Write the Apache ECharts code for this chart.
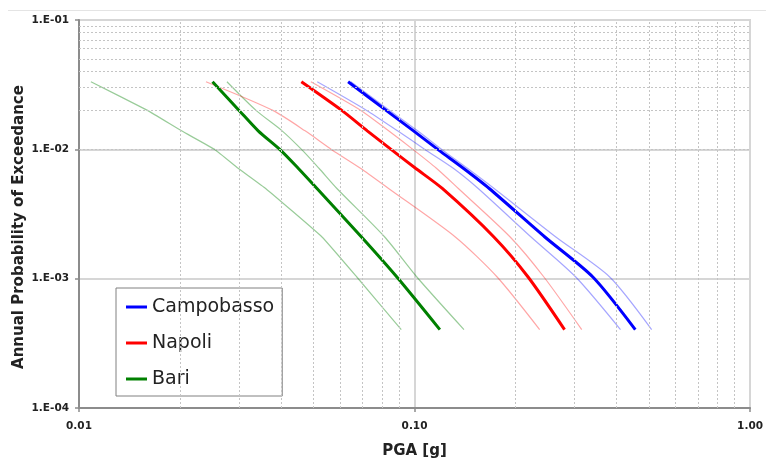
<!DOCTYPE html>
<html>
<head>
<meta charset="utf-8">
<script src="https://cdn.jsdelivr.net/npm/echarts@6/dist/echarts.min.js"></script>
<style>
  html, body { margin: 0; padding: 0; background: #fff; }
  #chart { width: 766px; height: 464px; }
</style>
</head>
<body>
<div id="chart"></div>
<script>
// Annual probability of exceedance for the nine reference return periods
// (30, 50, 72, 101, 140, 201, 475, 975, 2475 years)
const probExceed = [0.0333, 0.02, 0.0139, 0.0099, 0.00714, 0.00498, 0.0021, 0.00103, 0.000404];

// PGA [g] at each probability: lower fractile, median, upper fractile
const campobassoLow  = [0.0513, 0.0720, 0.0890, 0.1079, 0.1305, 0.1548, 0.2225, 0.3024, 0.411];
const campobassoMid  = [0.0634, 0.0823, 0.0993, 0.1178, 0.1398, 0.1670, 0.2446, 0.3400, 0.455];
const campobassoHigh = [0.0646, 0.0843, 0.1021, 0.1210, 0.1437, 0.1727, 0.2638, 0.3817, 0.509];

const napoliLow  = [0.0239, 0.0378, 0.0472, 0.0568, 0.0690, 0.0837, 0.1323, 0.1763, 0.236];
const napoliMid  = [0.0460, 0.0607, 0.0723, 0.0855, 0.1007, 0.1210, 0.1724, 0.2180, 0.280];
const napoliHigh = [0.0491, 0.0692, 0.0837, 0.0993, 0.1162, 0.1351, 0.1928, 0.2430, 0.315];

const bariLow  = [0.01085, 0.0160, 0.0202, 0.0255, 0.0298, 0.0360, 0.0530, 0.0673, 0.0913];
const bariMid  = [0.0250, 0.0300, 0.0342, 0.0398, 0.0450, 0.0512, 0.0695, 0.0886, 0.119];
const bariHigh = [0.0276, 0.0337, 0.0403, 0.0462, 0.0519, 0.0587, 0.0815, 0.1016, 0.1404];

// Axis tick labels, one per decade
const xTickLabels = ['0.01', '0.10', '1.00'];
const yTickLabels = ['1.E-04', '1.E-03', '1.E-02', '1.E-01'];

// Intermediate (2..9) gridline positions inside each decade
const xMinorGrid = [0.02, 0.03, 0.04, 0.05, 0.06, 0.07, 0.08, 0.09, 0.2, 0.3, 0.4, 0.5, 0.6, 0.7, 0.8, 0.9];
const yMinorGrid = [0.0002, 0.0003, 0.0004, 0.0005, 0.0006, 0.0007, 0.0008, 0.0009,
                    0.002, 0.003, 0.004, 0.005, 0.006, 0.007, 0.008, 0.009,
                    0.02, 0.03, 0.04, 0.05, 0.06, 0.07, 0.08, 0.09];

const FONT = '"DejaVu Sans", Verdana, sans-serif';

function curve(name, pga, color, width, opacity, z, smooth) {
  return {
    name: name,
    type: 'line',
    data: pga.map((x, i) => [x, probExceed[i]]),
    color: color,
    showSymbol: false,
    symbol: 'none',
    smooth: smooth,
    z: z,
    lineStyle: { color: color, width: width, opacity: opacity },
    emphasis: { disabled: true }
  };
}

const chart = echarts.init(document.getElementById('chart'), null, { renderer: 'canvas' });

const option = {
  animation: false,
  backgroundColor: '#ffffff',
  grid: {
    left: 79, right: 12, top: 20, bottom: 52,
    show: true,
    borderColor: '#b8b8b8',
    borderWidth: 1.5,
    backgroundColor: 'transparent'
  },
  xAxis: {
    type: 'log',
    logBase: 10,
    min: 0.01,
    max: 1,
    name: 'PGA [g]',
    nameLocation: 'middle',
    nameGap: 36,
    nameTextStyle: { fontFamily: FONT, fontWeight: 'bold', fontSize: 15, color: '#222' },
    axisLine: { lineStyle: { color: '#8c8c8c', width: 2 } },
    axisTick: { length: 4, lineStyle: { color: '#8c8c8c', width: 1.5 } },
    axisLabel: {
      margin: 13,
      fontFamily: FONT, fontWeight: 'bold', fontSize: 10.5, color: '#222',
      formatter: v => xTickLabels[Math.round(Math.log10(v)) + 2]
    },
    splitLine: { show: true, lineStyle: { color: '#d6d6d6', width: 2 } }
  },
  yAxis: {
    type: 'log',
    logBase: 10,
    min: 0.0001,
    max: 0.1,
    axisLine: { lineStyle: { color: '#8c8c8c', width: 2 } },
    axisTick: { length: 4, lineStyle: { color: '#8c8c8c', width: 1.5 } },
    axisLabel: {
      margin: 10,
      fontFamily: FONT, fontWeight: 'bold', fontSize: 10.5, color: '#222',
      formatter: v => yTickLabels[Math.round(Math.log10(v)) + 4]
    },
    splitLine: { show: true, lineStyle: { color: '#d6d6d6', width: 2 } }
  },
  legend: {
    data: ['Campobasso', 'Napoli', 'Bari'],
    orient: 'vertical',
    left: 116,
    top: 288,
    padding: [9, 8, 7, 10],
    itemGap: 16,
    itemWidth: 21,
    itemHeight: 3,
    icon: 'rect',
    backgroundColor: '#ffffff',
    borderColor: '#808080',
    borderWidth: 1,
    selectedMode: false,
    textStyle: { fontFamily: FONT, fontSize: 19, color: '#222', lineHeight: 20 }
  },
  graphic: [
    {
      type: 'line',
      shape: { x1: 8, y1: 10.5, x2: 766, y2: 10.5 },
      style: { stroke: '#e4e4e4', lineWidth: 1 },
      silent: true
    },
    {
      type: 'text',
      x: 19,
      y: 227,
      rotation: Math.PI / 2,
      style: {
        text: 'Annual Probability of Exceedance',
        font: 'bold 15px ' + FONT,
        fill: '#222',
        align: 'center',
        verticalAlign: 'middle'
      },
      silent: true
    }
  ],
  series: [
    {
      name: 'minor-grid',
      type: 'line',
      data: [],
      z: 1,
      silent: true,
      markLine: {
        silent: true,
        symbol: ['none', 'none'],
        label: { show: false },
        emphasis: { disabled: true },
        lineStyle: { color: '#c4c4c4', width: 1, type: [2, 2] },
        data: xMinorGrid.map(v => ({ xAxis: v })).concat(yMinorGrid.map(v => ({ yAxis: v })))
      }
    },
    curve('Bari low', bariLow, '#008000', 1.2, 0.4, 3, 0.1),
    curve('Bari high', bariHigh, '#008000', 1.2, 0.4, 3, 0.25),
    curve('Napoli low', napoliLow, '#ff0000', 1.2, 0.35, 3, 0.25),
    curve('Napoli high', napoliHigh, '#ff0000', 1.2, 0.35, 3, 0.25),
    curve('Campobasso low', campobassoLow, '#0000ff', 1.2, 0.35, 3, 0.25),
    curve('Campobasso high', campobassoHigh, '#0000ff', 1.2, 0.35, 3, 0.25),
    curve('Bari', bariMid, '#008000', 3, 1, 4, 0.25),
    curve('Napoli', napoliMid, '#ff0000', 3, 1, 4, 0.25),
    curve('Campobasso', campobassoMid, '#0000ff', 3, 1, 4, 0.25)
  ]
};

chart.setOption(option);
</script>
</body>
</html>
